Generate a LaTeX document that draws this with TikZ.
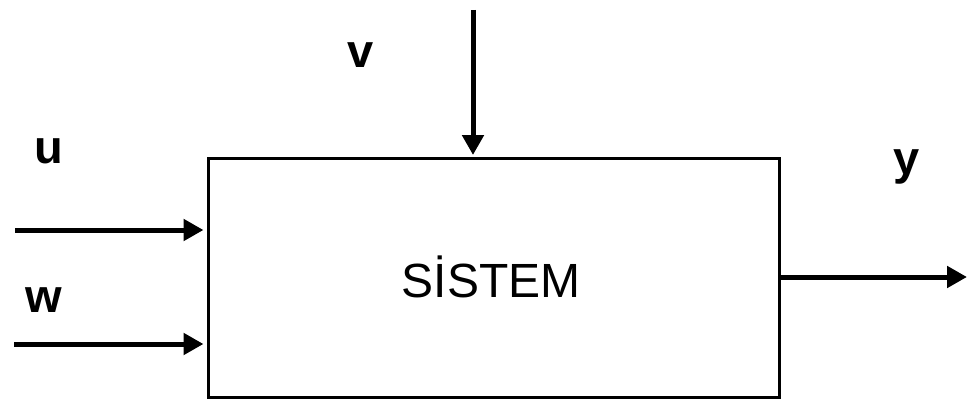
\documentclass[tikz,border=0pt]{standalone}
\usepackage{fontspec}
\setmainfont{Liberation Sans}
\usetikzlibrary{arrows.meta}
\begin{document}
\begin{tikzpicture}[x=1pt,y=-1pt,
  arr/.style={line width=5pt,-{Triangle[length=20pt,width=21pt]}},
  lbl/.style={anchor=base,inner sep=0pt,font=\fontsize{47pt}{50pt}\selectfont\bfseries},
  sysbox/.style={draw,line width=3pt,minimum width=571pt,minimum height=239pt,inner sep=0pt}]
\useasboundingbox (0,0) rectangle (970,404);
\node[sysbox] (sys) at (493.5,278) {};
\node[anchor=base,inner sep=0pt,font=\fontsize{48pt}{50pt}\selectfont] (txt) at (491,297) {SİSTEM};
\coordinate (uin) at (15,230);
\coordinate (win) at (14,344);
\coordinate (vin) at (473,10);
\coordinate (yout) at (967,277);
\draw[arr,shorten >=3pt] (uin) -- (sys.west |- uin);
\draw[arr,shorten >=3pt] (win) -- (sys.west |- win);
\draw[arr,shorten >=2pt] (vin) -- (vin |- sys.north);
\draw[arr] (sys.east |- yout) -- (yout);
\node[lbl] (u) at (49,163) {u};
\node[lbl] (v) at (361,67) {v};
\node[lbl] (w) at (44,312) {w};
\node[lbl] (y) at (907,174) {y};
\end{tikzpicture}
\end{document}
